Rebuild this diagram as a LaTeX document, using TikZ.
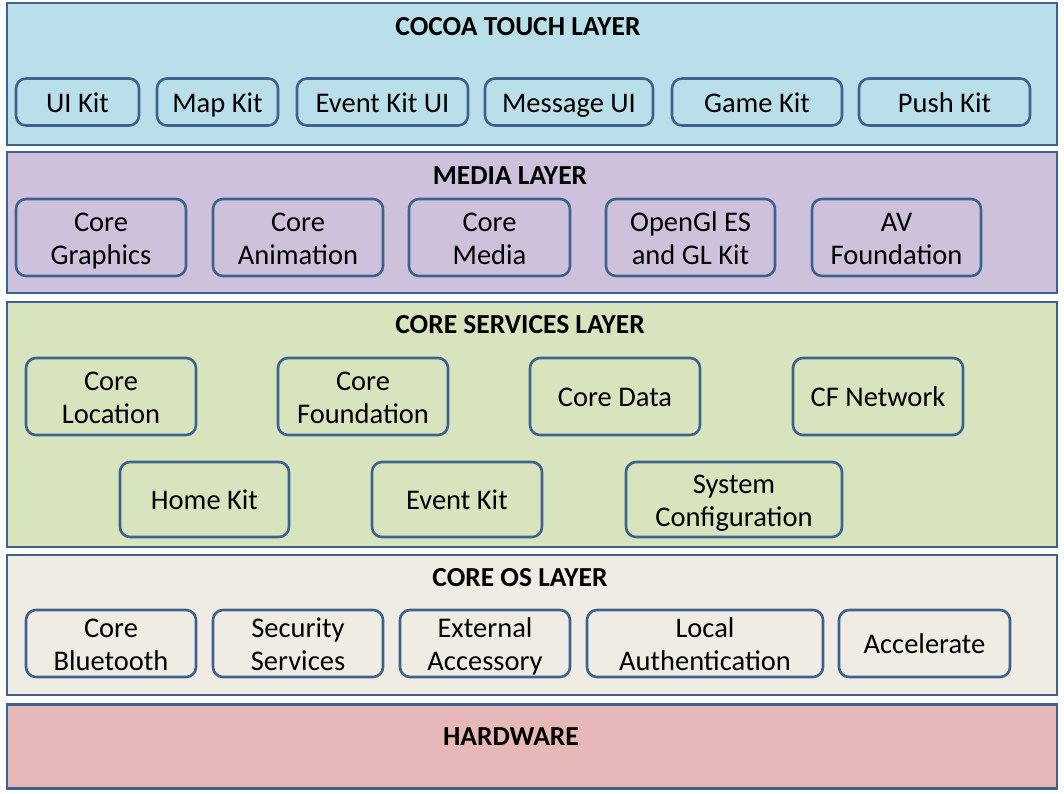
\documentclass[tikz,border=0pt]{standalone}
\usepackage{fontspec}
\setmainfont{Carlito}
\usetikzlibrary{positioning}

\definecolor{edge}{RGB}{62,98,142}
\definecolor{cocoafill}{RGB}{185,224,234}
\definecolor{mediafill}{RGB}{205,193,220}
\definecolor{servicefill}{RGB}{216,228,190}
\definecolor{osfill}{RGB}{239,237,227}
\definecolor{hwfill}{RGB}{230,185,184}

% struts on the first and last line keep every label at the same height
\newcommand\kitstrut{\rule{0pt}{27pt}}
\newcommand\kitend{\rule[-7pt]{0pt}{7pt}}

\tikzset{
  layer/.style={draw=edge,line width=2.6pt,rectangle,inner sep=0pt},
  layertitle/.style={font=\bfseries\fontsize{27.5}{33}\selectfont,inner sep=0pt},
  kit/.style={draw=edge,line width=2.6pt,rounded corners=10pt,align=center,
    inner sep=0pt,font=\fontsize{28.5}{33}\selectfont},
}

\begin{document}
\begin{tikzpicture}[x=1pt,y=-1pt]
\useasboundingbox (0,0) rectangle (1064,793);

% Cocoa Touch layer
\node[layer,fill=cocoafill,minimum width=1050pt,minimum height=142pt] (cocoa) at (532,74) {};
\node[layertitle] (cocoatitle) at (518,27) {COCOA TOUCH LAYER};
\node[kit,minimum width=123pt,minimum height=47pt] (uikit) at (77.5,102) {\kitstrut UI Kit\kitend};
\node[kit,minimum width=121pt,minimum height=47pt] (mapkit) at (217.5,102) {\kitstrut Map Kit\kitend};
\node[kit,minimum width=171pt,minimum height=47pt] (eventkitui) at (382.5,102) {\kitstrut Event Kit UI\kitend};
\node[kit,minimum width=168pt,minimum height=47pt] (messageui) at (569,102) {\kitstrut Message UI\kitend};
\node[kit,minimum width=170pt,minimum height=47pt] (gamekit) at (757,102) {\kitstrut Game Kit\kitend};
\node[kit,minimum width=171pt,minimum height=47pt] (pushkit) at (944.5,102) {\kitstrut Push Kit\kitend};

% Media layer
\node[layer,fill=mediafill,minimum width=1050pt,minimum height=141pt] (media) at (532,222.5) {};
\node[layertitle] (mediatitle) at (510,176) {MEDIA LAYER};
\node[kit,minimum width=170pt,minimum height=77pt] (coregraphics) at (101,237.5) {\kitstrut Core\\Graphics\kitend};
\node[kit,minimum width=170pt,minimum height=77pt] (coreanimation) at (298,237.5) {\kitstrut Core\\Animation\kitend};
\node[kit,minimum width=161pt,minimum height=77pt] (coremedia) at (489.5,237.5) {\kitstrut Core\\Media\kitend};
\node[kit,minimum width=169pt,minimum height=77pt] (opengl) at (690.5,237.5) {\kitstrut OpenGl ES\\and GL Kit\kitend};
\node[kit,minimum width=169pt,minimum height=77pt] (avfoundation) at (896.5,237.5) {\kitstrut AV\\Foundation\kitend};

% Core Services layer
\node[layer,fill=servicefill,minimum width=1050pt,minimum height=245pt] (services) at (532,424.5) {};
\node[layertitle] (servicestitle) at (520,325) {CORE SERVICES LAYER};
\node[kit,minimum width=170pt,minimum height=77pt] (corelocation) at (111,396.5) {\kitstrut Core\\Location\kitend};
\node[kit,minimum width=170pt,minimum height=77pt] (corefoundation) at (363,396.5) {\kitstrut Core\\Foundation\kitend};
\node[kit,minimum width=170pt,minimum height=77pt] (coredata) at (615,396.5) {\kitstrut Core Data\kitend};
\node[kit,minimum width=170pt,minimum height=77pt] (cfnetwork) at (878,396.5) {\kitstrut CF Network\kitend};
\node[kit,minimum width=169pt,minimum height=75pt] (homekit) at (204.5,499.5) {\kitstrut Home Kit\kitend};
\node[kit,minimum width=170pt,minimum height=75pt] (eventkit) at (457,499.5) {\kitstrut Event Kit\kitend};
\node[kit,minimum width=216pt,minimum height=75pt] (sysconfig) at (734,499.5) {\kitstrut System\\Configuration\kitend};

% Core OS layer
\node[layer,fill=osfill,minimum width=1050pt,minimum height=140pt] (coreos) at (532,625) {};
\node[layertitle] (coreostitle) at (520,578) {CORE OS LAYER};
\node[kit,minimum width=170pt,minimum height=67pt] (bluetooth) at (111,643.5) {\kitstrut Core\\Bluetooth\kitend};
\node[kit,minimum width=170pt,minimum height=67pt] (security) at (298,643.5) {\kitstrut Security\\Services\kitend};
\node[kit,minimum width=170pt,minimum height=67pt] (accessory) at (485,643.5) {\kitstrut External\\Accessory\kitend};
\node[kit,minimum width=236pt,minimum height=67pt] (localauth) at (705,643.5) {\kitstrut Local\\Authentication\kitend};
\node[kit,minimum width=171pt,minimum height=67pt] (accelerate) at (924.5,643.5) {\kitstrut Accelerate\kitend};

% Hardware
\node[layer,fill=hwfill,minimum width=1050pt,minimum height=84pt] (hardware) at (532,746.5) {};
\node[layertitle] (hardwaretitle) at (511,737) {HARDWARE};
\end{tikzpicture}
\end{document}
